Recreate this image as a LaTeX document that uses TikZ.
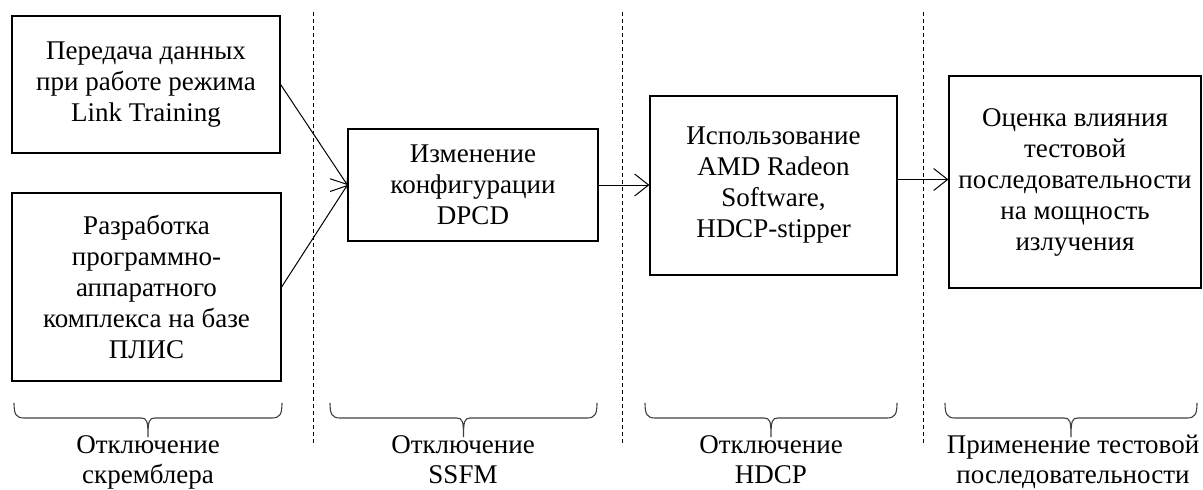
\documentclass[tikz,border=0pt]{standalone}
\usepackage{fontspec}
\setmainfont{Liberation Serif}
\usetikzlibrary{arrows.meta}
\newcommand\mybrace[2]{%
  \pgfmathsetmacro\bm{(#1+#2)/2}%
  \draw[brc] (#1,-403) .. controls (#1,-414) and (#1+2,-418) .. (#1+10,-418)
    -- (\bm-7,-418) .. controls (\bm-1,-418) and (\bm,-421) .. (\bm,-437)
    .. controls (\bm,-421) and (\bm+1,-418) .. (\bm+7,-418)
    -- (#2-10,-418) .. controls (#2-2,-418) and (#2,-414) .. (#2,-403);}
\begin{document}
\begin{tikzpicture}[x=1pt,y=1pt,
  box/.style={draw,line width=1.2pt,rectangle,align=center,inner sep=0pt,
    font=\fontsize{27}{31}\selectfont},
  conn/.style={line width=1pt,-{Straight Barb[length=14pt,width=22pt,line width=1pt]}},
  sep/.style={line width=0.8pt,dash pattern=on 4pt off 3pt},
  brc/.style={black!75,line width=1.1pt},
  lbl/.style={align=center,font=\fontsize{27}{30}\selectfont,inner sep=0pt,anchor=north}]
\useasboundingbox (0,0) rectangle (1203,-490);
\node[box,minimum width=268pt,minimum height=137pt] (A) at (146,-84.5)
  {Передача данных\\при работе режима\\Link Training};
\node[box,minimum width=269pt,minimum height=188pt] (B) at (146.5,-287)
  {Разработка\\программно-\\аппаратного\\комплекса на базе\\ПЛИС};
\node[box,minimum width=250pt,minimum height=112pt] (C) at (473,-185)
  {Изменение\\конфигурации\\DPCD};
\node[box,minimum width=247pt,minimum height=179pt] (D) at (773.5,-185.5)
  {Использование\\AMD Radeon\\Software,\\HDCP-stipper};
\node[box,minimum width=252pt,minimum height=212pt] (E) at (1075,-182)
  {Оценка влияния\\тестовой\\последовательности\\на мощность\\излучения};
\draw[conn] (A.east) -- (C.west);
\draw[conn] (B.east) -- (C.west);
\draw[conn] (C.east) -- (C.east -| D.west);
\draw[conn] ([yshift=6pt]D.east) -- ([yshift=6pt]D.east -| E.west);
\coordinate (s1t) at (313,-12); \coordinate (s1b) at (313,-443);
\coordinate (s2t) at (622,-12); \coordinate (s2b) at (622,-443);
\coordinate (s3t) at (923,-12); \coordinate (s3b) at (923,-443);
\draw[sep] (s1t) -- (s1b);
\draw[sep] (s2t) -- (s2b);
\draw[sep] (s3t) -- (s3b);
\mybrace{14}{282}
\mybrace{330}{597}
\mybrace{645}{897}
\mybrace{945}{1197}
\node[lbl] (L1) at (148,-435) {Отключение\\скремблера};
\node[lbl] (L2) at (463,-435) {Отключение\\SSFM};
\node[lbl] (L3) at (771,-435) {Отключение\\HDCP};
\node[lbl] (L4) at (1073,-435) {Применение тестовой\\последовательности};
\end{tikzpicture}
\end{document}
